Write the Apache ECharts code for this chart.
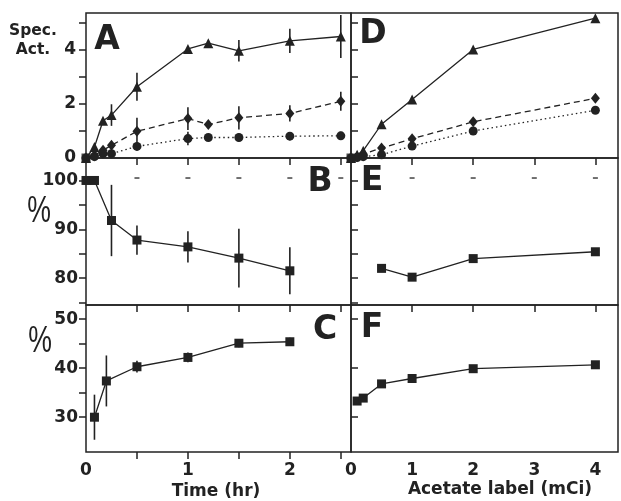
<!DOCTYPE html>
<html><head><meta charset="utf-8">
<script src="https://cdn.jsdelivr.net/npm/echarts@6/dist/echarts.min.js"></script>
<style>html,body{margin:0;padding:0;background:#fff}#c{width:621px;height:501px}</style>
</head><body><div id="c"></div>
<script>
// ---- data ----
const timesA = [0, 0.083, 0.167, 0.25, 0.5, 1, 1.2, 1.5, 2, 2.5];
const triA   = [0, 0.41, 1.38, 1.59, 2.64, 4.04, 4.25, 3.97, 4.34, 4.5];
const triAErr= [0, 0.05, 0.1, 0.4, 0.52, 0.1, 0.1, 0.4, 0.45, 0.8];
const diaA   = [0, 0.1, 0.29, 0.47, 0.99, 1.46, 1.24, 1.49, 1.65, 2.1];
const diaAErr= [0, 0, 0, 0.1, 0.5, 0.42, 0.1, 0.43, 0.3, 0.35];
const cirA   = [0, 0.05, 0.16, 0.16, 0.43, 0.72, 0.76, 0.76, 0.81, 0.82];
const cirAErr= [0, 0, 0, 0, 0.15, 0.25, 0.1, 0.15, 0.15, 0.15];

const timesB = [0, 0.083, 0.25, 0.5, 1, 1.5, 2];
const valB   = [100, 100, 91.8, 87.8, 86.4, 84.1, 81.5];
const errB   = [0, 0, 7.3, 3, 3.2, 6, 4.8];

const timesC = [0.083, 0.2, 0.5, 1, 1.5, 2];
const valC   = [30, 37.4, 40.3, 42.2, 45.1, 45.4];
const errC   = [4.6, 5.2, 1.2, 1, 0.8, 0.8];

const doseD  = [0, 0.1, 0.2, 0.5, 1, 2, 4];
const triD   = [0, 0.12, 0.27, 1.25, 2.17, 4.02, 5.18];
const diaD   = [0, 0.05, 0.15, 0.37, 0.71, 1.34, 2.21];
const cirD   = [0, 0.02, 0.05, 0.12, 0.44, 1.0, 1.77];

const doseE  = [0.5, 1, 2, 4];
const valE   = [82, 80.2, 84, 85.4];

const doseF  = [0.1, 0.2, 0.5, 1, 2, 4];
const valF   = [33.3, 33.9, 36.8, 37.9, 39.9, 40.7];

const refDashB = [0.5, 1, 1.5, 2, 2.5];
const refDashE = [1, 2, 3, 4];
const refLevel = 100.5;

const xTicksTime = [0.5, 1, 1.5, 2, 2.5];
const xLabelsTime = [0, 1, 2];
const xTicksDose = [1, 2, 3, 4];
const xLabelsDose = [0, 1, 2, 3, 4];
const yTicksA = [1, 2, 3, 4, 5];
const yLabelsA = [0, 2, 4];
const yTicksB = [75, 80, 85, 90, 95, 100];
const yLabelsB = [80, 90, 100];
const yTicksC = [30, 35, 40, 45, 50];
const yLabelsC = [30, 40, 50];
const yTicksF = [30, 40, 50];

// ---- helpers ----
const INK = '#222';
const zip = (xs, ys) => xs.map((x, i) => [x, ys[i]]);
const zip3 = (xs, ys, es) => xs.map((x, i) => [x, ys[i], es[i]]);

const grids = [
  {left: 86, top: 13, width: 265, height: 145},   // A
  {left: 86, top: 158, width: 265, height: 147},  // B
  {left: 86, top: 305, width: 265, height: 147},  // C
  {left: 351, top: 13, width: 267, height: 145},  // D
  {left: 351, top: 158, width: 267, height: 147}, // E
  {left: 351, top: 305, width: 267, height: 147}  // F
].map(g => Object.assign({show: true, borderColor: INK, borderWidth: 1.5, backgroundColor: 'transparent'}, g));

const lblStyle = {fontFamily: 'DejaVu Sans', fontWeight: 'bold', fontSize: 17, color: INK};

function axis(gi, pos, min, max, ticks, tickMode, labels, margin) {
  return {
    type: 'value', gridIndex: gi, position: pos, min: min, max: max,
    axisLine: {show: false},
    splitLine: {show: false},
    axisTick: ticks ? {show: true, inside: tickMode === 'in', length: 7, customValues: ticks,
      lineStyle: {color: INK, width: 1.5}} : {show: false},
    axisLabel: labels ? Object.assign({show: true, customValues: labels, margin: margin || 9}, lblStyle) : {show: false}
  };
}
const L = [0, 2.6], R = [0, 4.37], YA = [0, 5.37], YB = [74.5, 104.6], YC = [22.9, 52.9];

const xAxis = [
  axis(0, 'bottom', L[0], L[1], null), axis(0, 'top', L[0], L[1], null),
  axis(1, 'bottom', L[0], L[1], null), axis(1, 'top', L[0], L[1], xTicksTime, 'in'),
  axis(2, 'bottom', L[0], L[1], xTicksTime, 'out', xLabelsTime, 10), axis(2, 'top', L[0], L[1], xTicksTime, 'in'),
  axis(3, 'bottom', R[0], R[1], null), axis(3, 'top', R[0], R[1], null),
  axis(4, 'bottom', R[0], R[1], null), axis(4, 'top', R[0], R[1], xTicksDose, 'in'),
  axis(5, 'bottom', R[0], R[1], null, null, xLabelsDose, 10), axis(5, 'top', R[0], R[1], xTicksDose, 'in')
];
const yAxis = [
  axis(0, 'left', YA[0], YA[1], yTicksA, 'out', yLabelsA, 10), axis(0, 'right', YA[0], YA[1], yTicksA, 'in'),
  axis(1, 'left', YB[0], YB[1], yTicksB, 'out', yLabelsB, 8), axis(1, 'right', YB[0], YB[1], yTicksB, 'in'),
  axis(2, 'left', YC[0], YC[1], yTicksC, 'out', yLabelsC, 8), axis(2, 'right', YC[0], YC[1], yTicksC, 'in'),
  axis(3, 'left', YA[0], YA[1], yTicksA, 'in'), axis(3, 'right', YA[0], YA[1], yTicksA, 'out'),
  axis(4, 'left', YB[0], YB[1], yTicksB, 'in'), axis(4, 'right', YB[0], YB[1], yTicksB, 'out'),
  axis(5, 'left', YC[0], YC[1], yTicksF, 'in'), axis(5, 'right', YC[0], YC[1], yTicksF, 'out')
];

function line(gi, data, symbol, size, dash) {
  return {
    type: 'line', xAxisIndex: 2 * gi, yAxisIndex: 2 * gi, data: data,
    symbol: symbol, symbolSize: size, showSymbol: true,
    itemStyle: {color: INK}, lineStyle: {color: INK, width: 1.3, type: dash || 'solid'},
    animation: false, z: 3
  };
}
function errs(gi, data) {
  return {
    type: 'custom', xAxisIndex: 2 * gi, yAxisIndex: 2 * gi, data: data, animation: false, z: 2,
    encode: {x: 0, y: 1},
    renderItem: function (params, api) {
      const x = api.value(0), y = api.value(1), e = api.value(2);
      if (!e) return null;
      const p1 = api.coord([x, y + e]), p2 = api.coord([x, y - e]);
      return {type: 'line', shape: {x1: p1[0], y1: p1[1], x2: p2[0], y2: p2[1]},
        style: {stroke: INK, lineWidth: 1.6}};
    }
  };
}
function dashes(gi, xs) {
  return {type: 'scatter', xAxisIndex: 2 * gi, yAxisIndex: 2 * gi,
    data: xs.map(x => [x, refLevel]), symbol: 'rect', symbolSize: [5, 1.6],
    itemStyle: {color: INK}, animation: false};
}
function origin(gi) {
  return {type: 'scatter', xAxisIndex: 2 * gi, yAxisIndex: 2 * gi, data: [[0, 0]],
    symbol: 'rect', symbolSize: 9, itemStyle: {color: INK}, animation: false, z: 4};
}

const series = [
  // A
  line(0, zip(timesA, triA), 'triangle', 10, 'solid'),
  line(0, zip(timesA, diaA), 'diamond', [9, 11], [6, 4]),
  line(0, zip(timesA, cirA), 'circle', 9, [1.5, 3]),
  errs(0, zip3(timesA, triA, triAErr)),
  errs(0, zip3(timesA, diaA, diaAErr)),
  errs(0, zip3(timesA, cirA, cirAErr)),
  origin(0),
  // B
  line(1, zip(timesB, valB), 'rect', 9),
  errs(1, zip3(timesB, valB, errB)),
  dashes(1, refDashB),
  // C
  line(2, zip(timesC, valC), 'rect', 9),
  errs(2, zip3(timesC, valC, errC)),
  // D
  line(3, zip(doseD, triD), 'triangle', 10, 'solid'),
  line(3, zip(doseD, diaD), 'diamond', [9, 11], [6, 4]),
  line(3, zip(doseD, cirD), 'circle', 9, [1.5, 3]),
  origin(3),
  // E
  line(4, zip(doseE, valE), 'rect', 9),
  dashes(4, refDashE),
  // F
  line(5, zip(doseF, valF), 'rect', 9)
];

function txt(x, y, s, size, extra) {
  return Object.assign({type: 'text', x: x, y: y, z: 10,
    style: {text: s, fill: INK, fontFamily: 'DejaVu Sans', fontWeight: 'bold', fontSize: size,
      align: 'center', verticalAlign: 'middle'}}, extra || {});
}
function pct(x, y) {
  return {type: 'text', x: x, y: y, z: 10, scaleX: 0.72,
    style: {text: '%', fill: INK, fontFamily: 'Liberation Sans', fontWeight: 'normal', fontSize: 37,
      align: 'center', verticalAlign: 'middle'}};
}
const graphic = [
  txt(33, 31, 'Spec.', 15.5),
  txt(33, 50, 'Act.', 15.5),
  pct(39, 212),
  pct(40, 342),
  txt(107, 40, 'A', 33),
  txt(373, 34, 'D', 33),
  txt(320, 182, 'B', 33),
  txt(372, 181, 'E', 33),
  txt(325, 330, 'C', 33),
  txt(372, 328, 'F', 33),
  txt(216, 492, 'Time (hr)', 17),
  txt(500, 490, 'Acetate label (mCi)', 17)
];

const chart = echarts.init(document.getElementById('c'), null, {renderer: 'canvas'});
chart.setOption({animation: false, backgroundColor: '#fff', grid: grids, xAxis: xAxis, yAxis: yAxis, series: series, graphic: graphic});
</script></body></html>
